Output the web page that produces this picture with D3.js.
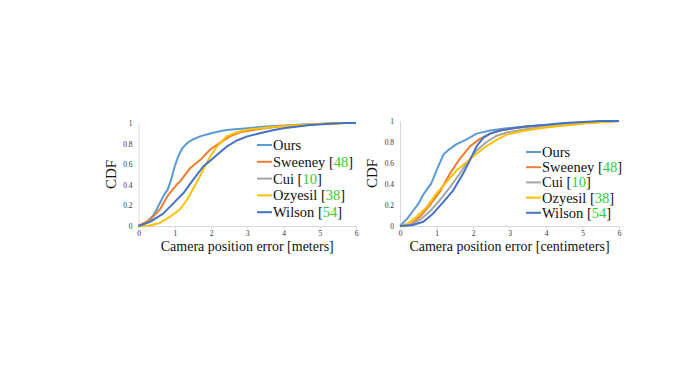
<!DOCTYPE html>
<html>
<head>
<meta charset="utf-8">
<script src="https://cdn.jsdelivr.net/npm/d3@7"></script>
<style>
  body { margin: 0; background: #fff; }
  svg text { font-family: "Liberation Serif", "DejaVu Serif", serif; }
</style>
</head>
<body>
<div id="chart"></div>
<script>
// Series names and citation numbers
const methods = ["Ours", "Sweeney", "Cui", "Ozyesil", "Wilson"];
const refs = [null, "48", "10", "38", "54"];
const colors = ["#5b9bd5", "#ed7d31", "#a5a5a5", "#ffc000", "#4472c4"];
const xTicks = [0, 1, 2, 3, 4, 5, 6];
const yTicks = [0, 0.2, 0.4, 0.6, 0.8, 1];

// Left panel: error in meters, [error, cdf]
const oursM = [[0,0],[0.2,0.03],[0.4,0.1],[0.5,0.16],[0.6,0.23],[0.7,0.3],[0.8,0.35],[0.9,0.45],[1.0,0.58],[1.1,0.68],[1.2,0.75],[1.3,0.79],[1.4,0.82],[1.5,0.84],[1.7,0.87],[2.0,0.9],[2.3,0.925],[2.5,0.935],[3.0,0.95],[3.5,0.965],[4.0,0.975],[4.5,0.985],[5.0,0.99],[5.5,1.0],[6,1.0]];
const sweeneyM = [[0,0],[0.32,0.06],[0.59,0.16],[0.82,0.3],[1.05,0.4],[1.14,0.43],[1.42,0.56],[1.7,0.64],[1.97,0.74],[2.25,0.81],[2.52,0.87],[2.8,0.91],[3.2,0.935],[3.6,0.955],[4.0,0.97],[4.5,0.98],[5.0,0.99],[5.5,1.0],[6,1.0]];
const cuiM = null;
const ozyesilM = [[0,0],[0.3,0.005],[0.59,0.03],[0.87,0.09],[1.14,0.16],[1.33,0.25],[1.6,0.42],[1.79,0.55],[1.97,0.67],[2.16,0.77],[2.43,0.87],[2.71,0.91],[3.0,0.935],[3.5,0.955],[4.0,0.97],[4.5,0.98],[5.0,0.99],[5.4,0.998],[6,1.0]];
const wilsonM = [[0,0],[0.32,0.04],[0.68,0.12],[0.96,0.22],[1.24,0.32],[1.51,0.45],[1.79,0.58],[1.93,0.62],[2.16,0.69],[2.43,0.77],[2.71,0.83],[3.0,0.87],[3.35,0.9],[3.7,0.93],[4.0,0.95],[4.4,0.965],[4.73,0.98],[5.2,0.99],[5.7,1.0],[6,1.0]];

// Right panel: error in centimeters
const oursC = [[0,0],[0.2,0.07],[0.37,0.15],[0.5,0.21],[0.64,0.3],[0.78,0.37],[0.85,0.4],[1.0,0.53],[1.19,0.68],[1.35,0.73],[1.55,0.78],[1.8,0.82],[2.1,0.88],[2.47,0.91],[2.92,0.93],[3.4,0.945],[4.0,0.96],[4.5,0.975],[5.0,0.985],[5.5,0.99],[6,1.0]];
const sweeneyC = [[0,0],[0.27,0.01],[0.55,0.09],[0.82,0.2],[1.1,0.33],[1.37,0.5],[1.64,0.64],[1.92,0.76],[2.19,0.83],[2.47,0.88],[2.74,0.91],[3.2,0.935],[3.8,0.955],[4.5,0.975],[5.0,0.985],[5.5,0.995],[6,1.0]];
const cuiC = [[0,0],[0.3,0.01],[0.55,0.06],[0.82,0.14],[1.1,0.25],[1.37,0.37],[1.64,0.5],[1.83,0.6],[2.1,0.72],[2.37,0.8],[2.65,0.86],[2.92,0.89],[3.4,0.92],[4.0,0.95],[4.6,0.97],[5.2,0.985],[5.7,0.995],[6,1.0]];
const ozyesilC = [[0,0],[0.2,0.02],[0.46,0.09],[0.73,0.18],[1.0,0.31],[1.28,0.42],[1.55,0.53],[1.83,0.61],[2.1,0.69],[2.37,0.76],[2.65,0.82],[2.92,0.87],[3.3,0.9],[3.84,0.93],[4.3,0.95],[4.75,0.965],[5.2,0.98],[5.66,0.99],[6,1.0]];
const wilsonC = [[0,0],[0.35,0.01],[0.64,0.04],[0.91,0.12],[1.19,0.23],[1.46,0.34],[1.73,0.5],[1.92,0.63],[2.1,0.76],[2.28,0.84],[2.47,0.88],[2.74,0.91],[3.1,0.93],[3.5,0.95],[4.0,0.965],[4.5,0.98],[5.0,0.99],[5.5,1.0],[6,1.0]];

const panels = [
  { left: 138.5, right: 356, top: 123, bottom: 226, title: "Camera position error [meters]",
    series: [oursM, sweeneyM, cuiM, ozyesilM, wilsonM], legendX: 257, legendY: 145, legendStep: 16.8, cdfX: 116 },
  { left: 400, right: 619, top: 121, bottom: 226, title: "Camera position error [centimeters]",
    series: [oursC, sweeneyC, cuiC, ozyesilC, wilsonC], legendX: 526, legendY: 152, legendStep: 15.2, cdfX: 377 }
];

const serif = "Liberation Serif, DejaVu Serif, serif";

const svg = d3.select("#chart")
  .append("svg")
  .attr("width", 677)
  .attr("height", 379);

panels.forEach(function(p) {
  const x = d3.scaleLinear().domain([0, 6]).range([p.left, p.right]);
  const y = d3.scaleLinear().domain([0, 1]).range([p.bottom, p.top]);

  // x axis
  const gx = svg.append("g")
    .attr("transform", "translate(0," + p.bottom + ")")
    .attr("font-family", serif)
    .call(d3.axisBottom(x).tickValues(xTicks).tickSize(3).tickFormat(d3.format("d")));
  gx.selectAll("line, path").attr("stroke", "#d9d9d9");
  gx.selectAll("text").attr("font-size", 7.5).attr("fill", "#333").attr("y", 10).attr("dy", 0);

  // y axis
  const gy = svg.append("g")
    .attr("transform", "translate(" + p.left + ",0)")
    .attr("font-family", serif)
    .call(d3.axisLeft(y).tickValues(yTicks).tickSize(0).tickPadding(6).tickFormat(d => d === 0 || d === 1 ? d : d.toFixed(1)));
  gy.select("path").attr("stroke", "#d9d9d9");
  gy.selectAll("text").attr("font-size", 7.5).attr("fill", "#333");

  // curves
  const line = d3.line().x(d => x(d[0])).y(d => y(d[1]));
  p.series.forEach(function(s, i) {
    if (!s) return;
    svg.append("path")
      .datum(s)
      .attr("fill", "none")
      .attr("stroke", colors[i])
      .attr("stroke-width", 2)
      .attr("stroke-linejoin", "round")
      .attr("d", line);
  });

  // legend
  methods.forEach(function(m, i) {
    const ly = p.legendY + i * p.legendStep;
    svg.append("line")
      .attr("x1", p.legendX).attr("x2", p.legendX + 15)
      .attr("y1", ly).attr("y2", ly)
      .attr("stroke", colors[i]).attr("stroke-width", 2);
    const t = svg.append("text")
      .attr("x", p.legendX + 16)
      .attr("y", ly + 5)
      .attr("font-family", serif)
      .attr("font-size", 14.5)
      .attr("fill", "#111");
    t.append("tspan").text(m);
    if (refs[i]) {
      t.append("tspan").text(" [");
      t.append("tspan").attr("fill", "#33cc33").text(refs[i]);
      t.append("tspan").text("]");
    }
  });

  // axis titles
  svg.append("text")
    .attr("x", (p.left + p.right) / 2)
    .attr("y", 251)
    .attr("text-anchor", "middle")
    .attr("font-family", serif)
    .attr("font-size", 14)
    .attr("fill", "#111")
    .text(p.title);

  svg.append("text")
    .attr("transform", "translate(" + p.cdfX + "," + ((p.top + p.bottom) / 2) + ") rotate(-90)")
    .attr("text-anchor", "middle")
    .attr("font-family", serif)
    .attr("font-size", 15)
    .attr("fill", "#111")
    .text("CDF");
});
</script>
</body>
</html>
